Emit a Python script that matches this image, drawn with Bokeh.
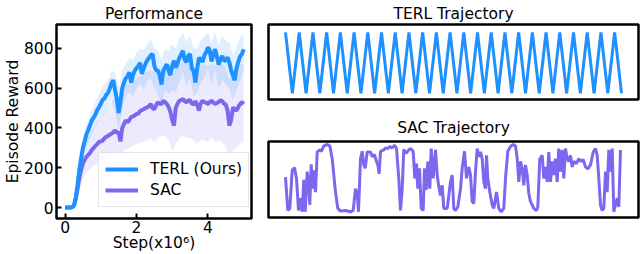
from bokeh.plotting import figure
from bokeh.layouts import row, column
from bokeh.models import Range1d, Legend, LegendItem, FixedTicker
from bokeh.embed import file_html
from bokeh.resources import INLINE

FONT = "DejaVu Sans"
FS = "15.5px"
TERL_COLOR = "#1E90FF"
SAC_COLOR = "#7B68EE"

# ---------------- Performance (mean curves) ----------------
steps = [0.00, 0.05, 0.10, 0.15, 0.20, 0.25, 0.30, 0.35, 0.40, 0.45,
         0.50, 0.55, 0.60, 0.65, 0.70, 0.75, 0.80, 0.85, 0.90, 0.95,
         1.00, 1.05, 1.10, 1.15, 1.20, 1.25, 1.30, 1.35, 1.40, 1.45,
         1.50, 1.55, 1.60, 1.65, 1.70, 1.75, 1.80, 1.85, 1.90, 1.95,
         2.00, 2.05, 2.10, 2.15, 2.20, 2.25, 2.30, 2.35, 2.40, 2.45,
         2.50, 2.55, 2.60, 2.65, 2.70, 2.75, 2.80, 2.85, 2.90, 2.95,
         3.00, 3.05, 3.10, 3.15, 3.20, 3.25, 3.30, 3.35, 3.40, 3.45,
         3.50, 3.55, 3.60, 3.65, 3.70, 3.75, 3.80, 3.85, 3.90, 3.95,
         4.00, 4.05, 4.10, 4.15, 4.20, 4.25, 4.30, 4.35, 4.40, 4.45,
         4.50, 4.55, 4.60, 4.65, 4.70, 4.75, 4.80, 4.85, 4.90, 4.95,
         5.00]

terl_mean = [0, 0, 0, 0, 2, 10, 50, 115, 190, 250,
             300, 335, 368, 390, 415, 438, 452, 468, 490, 503,
             522, 540, 548, 566, 575, 598, 625, 640, 590, 545,
             475, 530, 600, 628, 650, 660, 680, 628, 665, 688,
             700, 712, 728, 672, 700, 722, 740, 752, 765, 772,
             712, 690, 688, 665, 618, 686, 705, 720, 690, 665,
             712, 738, 702, 725, 752, 770, 788, 742, 730, 762,
             772, 700, 685, 628, 700, 752, 745, 732, 765, 780,
             805, 790, 735, 765, 796, 760, 718, 745, 762, 738,
             740, 755, 730, 690, 665, 640, 700, 732, 760, 770,
             795]

sac_mean = [0, 0, 0, 0, 2, 10, 45, 95, 150, 190,
            222, 240, 256, 265, 275, 290, 300, 310, 318, 330,
            333, 336, 348, 355, 360, 366, 372, 378, 388, 375,
            380, 332, 400, 420, 438, 428, 440, 455, 458, 463,
            470, 472, 485, 490, 494, 500, 503, 510, 520, 500,
            494, 515, 528, 522, 520, 537, 530, 520, 505, 480,
            440, 412, 500, 522, 537, 540, 545, 535, 528, 538,
            540, 522, 518, 535, 515, 487, 525, 537, 530, 527,
            520, 530, 537, 528, 520, 525, 530, 538, 535, 522,
            518, 487, 412, 440, 503, 495, 487, 505, 520, 530,
            520]

band_steps = [0.0, 0.1, 0.2, 0.3, 0.4, 0.5, 0.6, 0.7, 0.8, 0.9,
              1.0, 1.1, 1.2, 1.3, 1.4, 1.5, 1.6, 1.7, 1.8, 1.9,
              2.0, 2.1, 2.2, 2.3, 2.4, 2.5, 2.6, 2.7, 2.8, 2.9,
              3.0, 3.1, 3.2, 3.3, 3.4, 3.5, 3.6, 3.7, 3.8, 3.9,
              4.0, 4.1, 4.2, 4.3, 4.4, 4.5, 4.6, 4.7, 4.8, 4.9,
              5.0]

terl_upper = [0, 0, 5, 80, 240, 350, 420, 470, 510, 550,
              590, 620, 640, 690, 680, 600, 690, 720, 750, 740,
              780, 800, 790, 820, 850, 800, 790, 740, 800, 790,
              820, 800, 850, 880, 830, 870, 800, 800, 840, 860,
              880, 830, 880, 820, 860, 840, 830, 770, 800, 860,
              870]
terl_lower = [0, 0, 0, 25, 140, 250, 310, 350, 390, 420,
              450, 470, 500, 540, 480, 390, 500, 560, 580, 560,
              600, 620, 590, 640, 650, 600, 570, 520, 590, 570,
              590, 580, 630, 680, 610, 650, 560, 580, 630, 650,
              700, 620, 690, 600, 640, 620, 600, 540, 590, 640,
              690]

sac_upper = [0, 0, 5, 70, 210, 300, 340, 370, 400, 430,
             450, 480, 500, 530, 560, 540, 590, 620, 630, 640,
             650, 660, 670, 680, 690, 680, 700, 700, 710, 700,
             650, 700, 720, 730, 720, 730, 710, 700, 720, 720,
             710, 720, 710, 720, 720, 700, 640, 690, 690, 720,
             720]
sac_lower = [0, 0, 0, 20, 90, 150, 180, 190, 210, 220,
             230, 240, 250, 260, 270, 250, 280, 290, 300, 310,
             320, 330, 330, 340, 350, 330, 350, 360, 360, 340,
             280, 320, 350, 360, 350, 350, 340, 320, 340, 340,
             330, 350, 330, 340, 330, 300, 250, 290, 300, 320,
             330]

x_ticks = [0, 2, 4]
y_ticks = [0, 200, 400, 600, 800]

# ---------------- Trajectories ----------------
terl_traj_t = list(range(50))
terl_traj_y = [1, 0, 1, 0, 1, 0, 1, 0, 1, 0,
               1, 0, 1, 0, 1, 0, 1, 0, 1, 0,
               1, 0, 1, 0, 1, 0, 1, 0, 1, 0,
               1, 0, 1, 0, 1, 0, 1, 0, 1, 0,
               1, 0, 1, 0, 1, 0, 1, 0, 1, 0]

sac_traj_t = [0, 2.3, 4.3, 6.7, 9, 11, 13, 15, 16.7, 18.3,
              19.7, 21.7, 23.3, 24.3, 25.7, 27, 28.3, 30, 31.7, 34.3,
              36, 38.3, 41.7, 44.3, 46.7, 50, 52.3, 55, 60, 65,
              67.7, 70, 71.7, 73, 75, 76.7, 78.3, 79.7, 81.7, 85,
              86.7, 89, 91, 92.3, 93.7, 95, 98.3, 100, 102.3, 104.3,
              106.7, 109, 111, 113.3, 115, 116.7, 118.3, 120, 121.7, 123.3,
              125, 127.7, 129.3, 131, 132.3, 134, 135.7, 137.7, 139, 140.7,
              142.3, 144.3, 145.7, 147.7, 150, 151.7, 153.3, 155, 156.7, 158.3,
              161.7, 165, 166.7, 168.3, 170, 172.3, 175, 176.7, 179, 181,
              183.3, 185, 186.7, 188.3, 190, 191.7, 193.3, 195, 196.7, 198.3,
              200, 201, 202.3, 204.3, 206.7, 208.3, 211, 213.3, 215.7, 218.3,
              220, 222.3, 225, 227.7, 230, 231.7, 233.3, 235, 236.7, 238.3,
              240, 241.7, 243.3, 245, 246.7, 248.3, 251, 252.3, 254.3, 256.7,
              258.3, 260, 261.7, 263.3, 265, 266.7, 268.3, 270, 271.7, 273.3,
              275, 276.7, 278.3, 280, 281.7, 283.3, 285, 286.7, 288.3, 291,
              293.3, 295.7, 297.7, 300, 302.3, 305, 307.7, 310, 311.7, 313.3,
              315, 316.7, 318.3, 320, 321.7, 323.3, 325, 326.7, 328.3, 330,
              331.7, 333.3, 335]
sac_traj_y = [0.52, 0.03, 0.06, 0.62, 0.66, 0.50, 0.03, 0.21, 0.01, 0.48,
              0.01, 0.60, 0.40, 0.11, 0.71, 0.35, 0.62, 0.30, 0.89, 0.92,
              0.90, 0.98, 1.00, 0.98, 0.79, 0.30, 0.06, 0.02, 0.03, 0.01,
              0.03, 0.35, 0.28, 0.01, 0.79, 0.90, 0.70, 0.65, 0.89, 0.89,
              0.82, 0.85, 0.75, 0.70, 0.57, 0.90, 0.92, 0.95, 0.94, 0.97,
              0.95, 0.99, 0.94, 0.50, 0.03, 0.35, 0.93, 0.87, 0.89, 0.92,
              0.94, 0.90, 0.50, 0.72, 0.35, 0.65, 0.06, 0.03, 0.65, 0.33,
              0.75, 0.35, 0.94, 0.50, 0.92, 0.55, 0.38, 0.25, 0.40, 0.06,
              0.06, 0.45, 0.55, 0.06, 0.03, 0.08, 0.35, 0.65, 0.90, 0.50,
              0.67, 0.55, 0.16, 0.13, 0.60, 0.94, 0.82, 0.89, 0.79, 0.45,
              0.35, 0.84, 0.50, 0.30, 0.11, 0.06, 0.30, 0.06, 0.01, 0.06,
              0.50, 0.90, 0.97, 1.00, 0.98, 0.79, 0.45, 0.75, 0.65, 0.40,
              0.70, 0.55, 0.28, 0.16, 0.11, 0.06, 0.03, 0.08, 0.79, 0.84,
              0.50, 0.67, 0.45, 0.89, 0.45, 0.75, 0.55, 0.79, 0.45, 0.94,
              0.60, 0.92, 0.50, 0.94, 0.79, 0.75, 0.84, 0.67, 0.75, 0.72,
              0.79, 0.75, 0.78, 0.67, 0.64, 0.70, 0.89, 0.94, 0.84, 0.50,
              0.11, 0.03, 0.06, 0.60, 0.30, 0.92, 0.60, 0.94, 0.01, 0.11,
              0.21, 0.08, 0.92]


def style_title(p, standoff):
    p.title.align = "center"
    p.title.text_font = FONT
    p.title.text_font_size = FS
    p.title.text_font_style = "normal"
    p.title.text_color = "black"
    p.title.standoff = standoff


def style_frame(p):
    p.outline_line_color = "black"
    p.outline_line_width = 2.5
    p.outline_line_alpha = 1.0
    p.xgrid.visible = False
    p.ygrid.visible = False
    p.background_fill_color = "white"
    p.border_fill_color = "white"


# ---- Left: Performance ----
p1 = figure(width=260, height=254, output_backend="svg", toolbar_location=None,
            x_range=Range1d(-0.24, 5.22), y_range=Range1d(-55, 920),
            min_border_left=49, min_border_right=9, min_border_top=23,
            min_border_bottom=35, title="Performance")
style_title(p1, 4)
style_frame(p1)

p1.varea(x=band_steps, y1=sac_lower, y2=sac_upper, fill_color=SAC_COLOR, fill_alpha=0.14)
p1.varea(x=band_steps, y1=terl_lower, y2=terl_upper, fill_color=TERL_COLOR, fill_alpha=0.14)
r_sac = p1.line(steps, sac_mean, line_color=SAC_COLOR, line_width=4)
r_terl = p1.line(steps, terl_mean, line_color=TERL_COLOR, line_width=4)

for ax in (p1.xaxis[0], p1.yaxis[0]):
    ax.axis_line_color = None
    ax.major_tick_in = 5
    ax.major_tick_out = 0
    ax.major_tick_line_width = 2
    ax.major_tick_line_color = "black"
    ax.minor_tick_line_color = None
    ax.major_label_text_font = FONT
    ax.major_label_text_font_size = FS
    ax.major_label_text_color = "black"
    ax.axis_label_text_font = FONT
    ax.axis_label_text_font_size = FS
    ax.axis_label_text_font_style = "normal"
    ax.axis_label_text_color = "black"

p1.xaxis.major_label_standoff = 2
p1.yaxis.major_label_standoff = 3
p1.xaxis.axis_label_standoff = -2
p1.yaxis.axis_label_standoff = -1
p1.xaxis.ticker = FixedTicker(ticks=x_ticks)
p1.yaxis.ticker = FixedTicker(ticks=y_ticks)
p1.xaxis.axis_label = "Step(x10\u2076)"
p1.yaxis.axis_label = "Episode Reward"

legend = Legend(items=[LegendItem(label="TERL (Ours)", renderers=[r_terl]),
                       LegendItem(label="SAC", renderers=[r_sac])],
                location=(42, 11))
legend.label_text_font = FONT
legend.label_text_font_size = FS
legend.label_text_color = "black"
legend.glyph_width = 33
legend.glyph_height = 20
legend.label_height = 20
legend.label_standoff = 12
legend.spacing = 1
legend.padding = 6
legend.margin = 0
legend.border_line_color = "#cccccc"
legend.border_line_width = 1
legend.background_fill_alpha = 0.8
p1.add_layout(legend)

# ---- Right top: TERL trajectory ----
p2 = figure(width=380, height=110, output_backend="svg", toolbar_location=None,
            x_range=Range1d(-2.48, 51.48), y_range=Range1d(-0.102, 1.13),
            min_border_left=8, min_border_right=2, min_border_top=23,
            min_border_bottom=11, title="TERL Trajectory")
style_title(p2, 4)
style_frame(p2)
p2.xaxis.visible = False
p2.yaxis.visible = False
p2.line(terl_traj_t, terl_traj_y, line_color=TERL_COLOR, line_width=3)

# ---- Right bottom: SAC trajectory ----
p3 = figure(width=380, height=144, output_backend="svg", toolbar_location=None,
            x_range=Range1d(-17, 353), y_range=Range1d(-0.074, 1.044),
            min_border_left=8, min_border_right=2, min_border_top=31,
            min_border_bottom=37, title="SAC Trajectory")
style_title(p3, 9)
style_frame(p3)
p3.xaxis.visible = False
p3.yaxis.visible = False
p3.line(sac_traj_t, sac_traj_y, line_color=SAC_COLOR, line_width=3)

layout = row(p1, column(p2, p3, spacing=0), spacing=0)

open("out.html", "w").write(file_html(layout, INLINE))
